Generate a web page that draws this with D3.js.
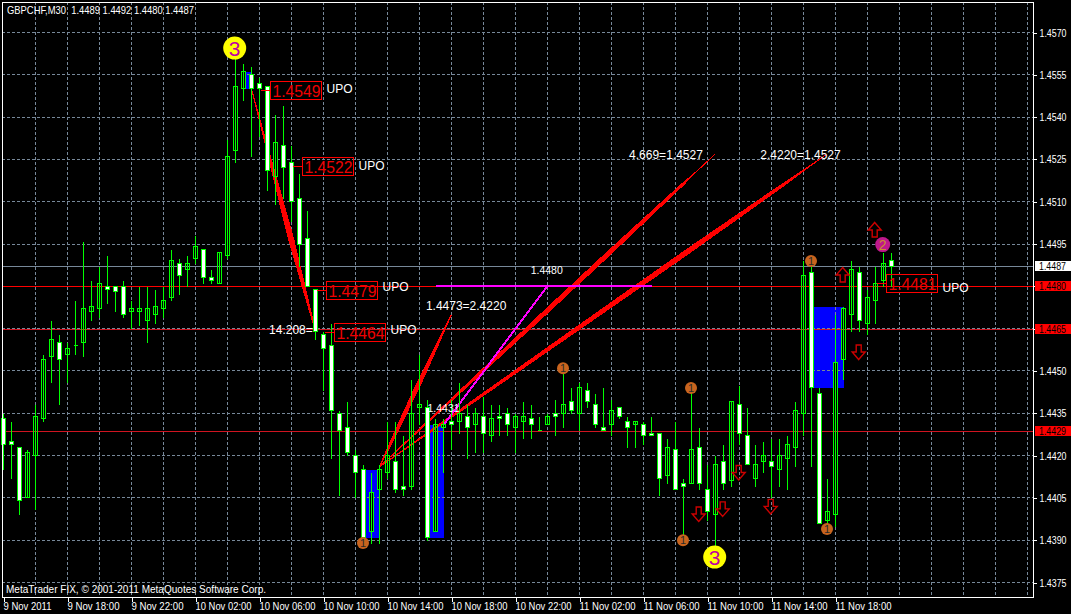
<!DOCTYPE html>
<html><head><meta charset="utf-8">
<script src="https://cdn.jsdelivr.net/npm/d3@7"></script>
<style>html,body{margin:0;padding:0;background:#000;overflow:hidden}svg{display:block}text{font-family:"Liberation Sans",Arial,sans-serif}</style>
</head><body><div id="chart"></div>
<script>
const open=[1.4433,1.4425,1.4423,1.4405,1.4420,1.4433,1.4455,1.4460,1.4456,1.4459,1.4460,1.4471,1.4472,1.4480,1.4480,1.4480,1.4471,1.4471,1.4468,1.4470,1.4472,1.4476,1.4488,1.4486,1.4490,1.4493,1.4483,1.4481,1.4491,1.4528,1.4550,1.4555,1.4552,1.4551,1.4519,1.4530,1.4524,1.4511,1.4497,1.4479,1.4463,1.4459,1.4435,1.4430,1.4420,1.4415,1.4393,1.4408,1.4414,1.4418,1.4409,1.4409,1.4437,1.4437,1.4393,1.4430,1.4432,1.4432,1.4434,1.4431,1.4434,1.4427,1.4434,1.4435,1.4430,1.4432,1.4433,1.4429,1.4431,1.4435,1.4435,1.4439,1.4435,1.4443,1.4438,1.4430,1.4431,1.4437,1.4432,1.4431,1.4431,1.4428,1.4428,1.4413,1.4422,1.4410,1.4410,1.4423,1.4408,1.4399,1.4418,1.4411,1.4438,1.4427,1.4412,1.4418,1.4418,1.4415,1.4419,1.4423,1.4435,1.4485,1.4442,1.4397,1.4399,1.4454,1.4470,1.4485,1.4467,1.4475,1.4482,1.4489];
const high=[1.4435,1.4432,1.4423,1.4422,1.4438,1.4456,1.4468,1.4463,1.4460,1.4475,1.4496,1.4482,1.4487,1.4491,1.4480,1.4482,1.4475,1.4480,1.4480,1.4479,1.4480,1.4493,1.4490,1.4491,1.4498,1.4493,1.4486,1.4492,1.4532,1.4561,1.4559,1.4558,1.4554,1.4551,1.4541,1.4544,1.4530,1.4520,1.4507,1.4479,1.4464,1.4467,1.4436,1.4439,1.4422,1.4417,1.4414,1.4417,1.4432,1.4432,1.4427,1.4447,1.4456,1.4440,1.4433,1.4433,1.4440,1.4446,1.4438,1.4437,1.4441,1.4438,1.4438,1.4437,1.4435,1.4439,1.4438,1.4434,1.4435,1.4440,1.4451,1.4444,1.4446,1.4446,1.4442,1.4444,1.4440,1.4437,1.4434,1.4432,1.4432,1.4434,1.4428,1.4426,1.4432,1.4412,1.4444,1.4430,1.4417,1.4420,1.4424,1.4439,1.4445,1.4437,1.4424,1.4425,1.4426,1.4426,1.4427,1.4439,1.4489,1.4489,1.4444,1.4412,1.4470,1.4473,1.4489,1.4487,1.4479,1.4487,1.4492,1.4492];
const low=[1.4415,1.4412,1.4399,1.4405,1.4401,1.4432,1.4446,1.4438,1.4446,1.4456,1.4455,1.4468,1.4469,1.4474,1.4471,1.4469,1.4465,1.4466,1.4460,1.4467,1.4469,1.4475,1.4477,1.4480,1.4488,1.4481,1.4481,1.4481,1.4490,1.4524,1.4546,1.4526,1.4533,1.4514,1.4509,1.4511,1.4503,1.4487,1.4480,1.4461,1.4443,1.4419,1.4406,1.4420,1.4405,1.4390,1.4389,1.4389,1.4412,1.4407,1.4406,1.4408,1.4431,1.4390,1.4393,1.4414,1.4422,1.4428,1.4419,1.4421,1.4421,1.4425,1.4427,1.4427,1.4421,1.4426,1.4426,1.4429,1.4431,1.4427,1.4430,1.4435,1.4429,1.4437,1.4430,1.4429,1.4427,1.4433,1.4423,1.4423,1.4424,1.4427,1.4406,1.4410,1.4408,1.4390,1.4410,1.4408,1.4397,1.4388,1.4408,1.4409,1.4424,1.4417,1.4409,1.4414,1.4405,1.4409,1.4408,1.4416,1.4427,1.4416,1.4396,1.4395,1.4395,1.4447,1.4464,1.4464,1.4463,1.4467,1.4480,1.4480];
const close=[1.4424,1.4424,1.4404,1.4421,1.4434,1.4454,1.4461,1.4454,1.4458,1.4459,1.4472,1.4473,1.4481,1.4479,1.4478,1.4470,1.4472,1.4472,1.4472,1.4473,1.4475,1.4489,1.4484,1.4488,1.4494,1.4483,1.4482,1.4492,1.4526,1.4551,1.4556,1.4550,1.4550,1.4521,1.4531,1.4522,1.4510,1.4495,1.4480,1.4464,1.4458,1.4436,1.4429,1.4421,1.4414,1.4391,1.4407,1.4415,1.4420,1.4408,1.4408,1.4435,1.4438,1.4391,1.4431,1.4431,1.4431,1.4435,1.4430,1.4435,1.4428,1.4433,1.4433,1.4431,1.4434,1.4434,1.4431,1.4429,1.4434,1.4434,1.4438,1.4436,1.4444,1.4439,1.4431,1.4429,1.4436,1.4434,1.4430,1.4432,1.4427,1.4427,1.4412,1.4423,1.4408,1.4409,1.4422,1.4410,1.4400,1.4417,1.4410,1.4439,1.4428,1.4417,1.4417,1.4420,1.4416,1.4420,1.4424,1.4436,1.4484,1.4444,1.4396,1.4400,1.4453,1.4472,1.4486,1.4468,1.4476,1.4481,1.4488,1.4487];
const priceTicks=[1.4570,1.4555,1.4540,1.4525,1.4510,1.4495,1.4480,1.4465,1.4450,1.4435,1.4420,1.4405,1.4390,1.4375];
const timeTickBars=[0,8,16,24,32,40,48,56,64,72,80,88,96,104];
const timeTickLabels=["9 Nov 2011","9 Nov 18:00","9 Nov 22:00","10 Nov 02:00","10 Nov 06:00","10 Nov 10:00","10 Nov 14:00","10 Nov 18:00","10 Nov 22:00","11 Nov 02:00","11 Nov 06:00","11 Nov 10:00","11 Nov 14:00","11 Nov 18:00"];
const gridBars=d3.range(4,132,4);
const levelLines=[{p:1.4487,txt:"1.4487",c:"#778899",fg:"#000",bg:"#fff"},{p:1.4480,txt:"1.4480",c:"#ff0000",fg:"#000",bg:"#ff0000"},{p:1.44648,txt:"1.4465",c:"#d01420",fg:"#000",bg:"#ff0000"},{p:1.44285,txt:"1.4429",c:"#d01420",fg:"#000",bg:"#ff0000"}];
const blueBoxes=[{a:30,b:31,hi:1.4556,lo:1.4550},{a:45,b:47,hi:1.4415,lo:1.4391},{a:53,b:55,hi:1.4431,lo:1.4391},{a:101,b:105,hi:1.4473,lo:1.4444}];
const slivers=[
 {a:31,pa:1.4550,b:39,pb:1.4464,t:[0,.18,.45,.62,.85,1],w:[1,2,4.6,6,3.2,1]},
 {a:47,pa:1.4416,b:56,pb:1.4470,t:[0,.12,.3,.55,.8,1],w:[1,2.6,4,5,3,1]},
 {a:47,pa:1.4416,b:89,pb:1.4527,t:[0,.25,.5,.68,.9,.94,1],w:[1,3,5,5,3,1.2,.8]},
 {a:47,pa:1.4416,b:103,pb:1.4527,t:[0,.2,.45,.68,.9,.96,1],w:[1,3,4.6,5.6,3.4,1.4,.8]}];
const magenta=[{a:55,pa:1.4431,b:68,pb:1.4480},{a:54,pa:1.4480,b:81,pb:1.4480}];
const priceLabels=[{bar:32,p:1.45495,upo:1.45502,txt:"1.4549"},{bar:36,p:1.45225,upo:1.4523,txt:"1.4522"},{bar:39,p:1.44787,upo:1.4480,txt:"1.4479"},{bar:40,p:1.44637,upo:1.44648,txt:"1.4464"},{bar:109,p:1.4481,upo:1.44797,txt:"1.4481"}];
const notes=[{bar:78.2,p:1.4525,txt:"4.669=1.4527"},{bar:94.6,p:1.4525,txt:"2.4220=1.4527"},{bar:52.8,p:1.44715,txt:"1.4473=2.4220"},{bar:33.2,p:1.4463,txt:"14.208="}];
const smallNotes=[{bar:65.9,p:1.44843,txt:"1.4480"},{bar:53,p:1.44353,txt:"1.4431"}];
const yellowDots=[{bar:29,p:1.45645,txt:"3"},{bar:89,p:1.4384,txt:"3"}];
const orangeDots=[{bar:45,p:1.4389},{bar:70,p:1.4451},{bar:86,p:1.4444},{bar:85,p:1.4390},{bar:101,p:1.4489},{bar:103,p:1.4394}];
const pinkDots=[{bar:110,p:1.44948,txt:"2"}];
const arrows=[{bar:109,p:1.4500,up:true},{bar:105,p:1.4484,up:true},{bar:107,p:1.44567,up:false},{bar:92,p:1.4414,up:false},{bar:90,p:1.44011,up:false},{bar:96,p:1.4402,up:false},{bar:87,p:1.43993,up:false}];
const titleText="GBPCHF,M30  1.4489 1.4492 1.4480 1.4487";
const footerText="MetaTrader FIX, \u00a9 2001-2011 MetaQuotes Software Corp.";

const W=1071,H=614,L=2,T=2,R=1033,B=597;
const x=d3.scaleLinear().domain([0,111]).range([3.5,891.5]);
const y=d3.scaleLinear().domain([1.4375,1.4570]).range([582.5,32.5]);
const sx=b=>Math.floor(x(b))+.5, sy=p=>Math.round(y(p)-.5)+.5;
const svg=d3.select("#chart").append("svg").attr("width",W).attr("height",H);
svg.append("rect").attr("width",W).attr("height",H).attr("fill","#000");
const plot=svg.append("g").attr("shape-rendering","crispEdges");

// blue boxes
plot.selectAll("rect.b").data(blueBoxes).join("rect").attr("fill","#0000ff")
 .attr("x",d=>sx(d.a)).attr("width",d=>sx(d.b)-sx(d.a)).attr("y",d=>sy(d.hi)).attr("height",d=>sy(d.lo)-sy(d.hi));
// grid
const dash="3 2";
plot.selectAll("line.gx").data(gridBars).join("line").attr("x1",d=>sx(d)).attr("x2",d=>sx(d)).attr("y1",T).attr("y2",B)
 .attr("stroke","#778899").attr("stroke-dasharray",dash);
plot.selectAll("line.gy").data(priceTicks).join("line").attr("x1",L).attr("x2",R).attr("y1",d=>sy(d)).attr("y2",d=>sy(d))
 .attr("stroke","#778899").attr("stroke-dasharray",dash);
// bull bodies first
const idx=d3.range(open.length);
const bodyPath=i=>{const a=sy(Math.max(open[i],close[i])),b=sy(Math.min(open[i],close[i])),c=sx(i);return `M${c-2} ${a}H${c+2}V${b}H${c-2}Z`;};
const isBear=i=>close[i]<open[i];
plot.selectAll("path.bull").data(idx.filter(i=>!isBear(i))).join("path").attr("d",bodyPath).attr("fill","#000").attr("stroke","none");
// level lines
plot.selectAll("line.lvl").data(levelLines).join("line").attr("x1",L).attr("x2",R).attr("y1",d=>sy(d.p)).attr("y2",d=>sy(d.p)).attr("stroke",d=>d.c);
// slivers
const poly=d3.line();
plot.selectAll("path.sl").data(slivers).join("path").attr("fill","#ff0000").attr("d",s=>{
  const x0=x(s.a),y0=y(s.pa),x1=x(s.b),y1=y(s.pb),dx=x1-x0,dy=y1-y0,l=Math.hypot(dx,dy),nx=-dy/l,ny=dx/l;
  const up=s.t.map((t,i)=>[x0+dx*t+nx*s.w[i]/2,y0+dy*t+ny*s.w[i]/2]);
  const dn=s.t.map((t,i)=>[x0+dx*t-nx*s.w[i]/2,y0+dy*t-ny*s.w[i]/2]).reverse();
  return poly(up.concat(dn))+"Z";});
// magenta
plot.selectAll("line.mg").data(magenta).join("line").attr("x1",d=>x(d.a)).attr("x2",d=>x(d.b)).attr("y1",d=>Math.round(y(d.pa))).attr("y2",d=>Math.round(y(d.pb)))
 .attr("stroke","#ff00ff").attr("stroke-width",2);
// wicks & bodies
plot.selectAll("line.w").data(idx).join("line").attr("x1",i=>sx(i)).attr("x2",i=>sx(i)).attr("y1",i=>sy(high[i])).attr("y2",i=>sy(low[i])+.5).attr("stroke","#00ff00");
plot.selectAll("path.body").data(idx).join("path").attr("d",bodyPath).attr("fill",i=>isBear(i)?"#fff":"none").attr("stroke","#00ff00");

// price labels
const lab=svg.append("g");
lab.selectAll("line").data(priceLabels).join("line").attr("shape-rendering","crispEdges").attr("x1",d=>sx(d.bar)+1).attr("x2",d=>sx(d.bar)+11).attr("y1",d=>sy(d.p)).attr("y2",d=>sy(d.p)).attr("stroke","#ff0000");
lab.selectAll("rect").data(priceLabels).join("rect").attr("shape-rendering","crispEdges").attr("x",d=>sx(d.bar)+11).attr("y",d=>sy(d.p)-9).attr("width",51).attr("height",18).attr("fill","none").attr("stroke","#ff0000");
lab.selectAll("text.v").data(priceLabels).join("text").attr("x",d=>sx(d.bar)+13).attr("y",d=>sy(d.p)+6.5).attr("fill","#ee0000").attr("font-size",16).attr("textLength",48).attr("lengthAdjust","spacingAndGlyphs").text(d=>d.txt);
lab.selectAll("text.u").data(priceLabels).join("text").attr("x",d=>sx(d.bar)+67).attr("y",d=>y(d.upo)+4.5).attr("fill","#fff").attr("font-size",12).text("UPO");
lab.selectAll("text.n").data(notes).join("text").attr("x",d=>x(d.bar)).attr("y",d=>y(d.p)).attr("fill","#fff").attr("font-size",12).text(d=>d.txt);
lab.selectAll("text.s").data(smallNotes).join("text").attr("x",d=>x(d.bar)).attr("y",d=>y(d.p)).attr("fill","#fff").attr("font-size",10.5).text(d=>d.txt);

// dots
const dots=svg.append("g");
dots.selectAll("circle.y").data(yellowDots).join("circle").attr("cx",d=>x(d.bar)-.8).attr("cy",d=>y(d.p)).attr("r",11.5).attr("fill","#ffff00");
dots.selectAll("text.y").data(yellowDots).join("text").attr("x",d=>x(d.bar)-.8).attr("y",d=>y(d.p)+7.5).attr("text-anchor","middle").attr("font-size",21).attr("fill","#c000a0").text(d=>d.txt);
dots.selectAll("circle.o").data(orangeDots).join("circle").attr("cx",d=>x(d.bar)-.5).attr("cy",d=>y(d.p)).attr("r",6).attr("fill","#c8641e");
dots.selectAll("text.o").data(orangeDots).join("text").attr("x",d=>x(d.bar)-.5).attr("y",d=>y(d.p)+4).attr("text-anchor","middle").attr("font-size",11).attr("fill","#2a2a2a").text("1");
dots.selectAll("circle.p").data(pinkDots).join("circle").attr("cx",d=>x(d.bar)-.8).attr("cy",d=>y(d.p)).attr("r",7.5).attr("fill","#c0188c");
dots.selectAll("text.p").data(pinkDots).join("text").attr("x",d=>x(d.bar)-.8).attr("y",d=>y(d.p)+5).attr("text-anchor","middle").attr("font-size",14).attr("fill","#c89030").text(d=>d.txt);
// arrows
const arrowPath=d3.path();
arrowPath.moveTo(0,-7.5);arrowPath.lineTo(6.5,0);arrowPath.lineTo(2.5,0);arrowPath.lineTo(2.5,7);arrowPath.lineTo(-2.5,7);arrowPath.lineTo(-2.5,0);arrowPath.lineTo(-6.5,0);arrowPath.closePath();
dots.selectAll("path.a").data(arrows).join("path").attr("d",arrowPath.toString()).attr("fill","none").attr("stroke","#cc0000").attr("stroke-width",1.4)
 .attr("transform",d=>`translate(${x(d.bar)-.8},${y(d.p)}) scale(1,${d.up?1:-1})`);

// frame
svg.append("rect").attr("shape-rendering","crispEdges").attr("x",L+.5).attr("y",T+.5).attr("width",R-L).attr("height",B-T).attr("fill","none").attr("stroke","#fff");

// axes
const axR=svg.append("g").attr("transform",`translate(${R+.5},0)`).attr("shape-rendering","crispEdges")
 .call(d3.axisRight(y).tickValues(priceTicks).tickFormat(d3.format(".4f")).tickSize(3).tickPadding(3));
axR.select(".domain").remove();
axR.selectAll("line").attr("stroke","#fff");
axR.selectAll("text").attr("fill","#fff").attr("font-size",11).attr("textLength",27).attr("lengthAdjust","spacingAndGlyphs").attr("font-family",'"Liberation Sans"');
const axB=svg.append("g").attr("transform",`translate(0,${B+.5})`).attr("shape-rendering","crispEdges")
 .call(d3.axisBottom(x).tickValues(timeTickBars).tickFormat((d,i)=>timeTickLabels[i]).tickSize(4).tickPadding(3));
axB.select(".domain").remove();
axB.selectAll("line").attr("stroke","#fff");
axB.selectAll("text").attr("fill","#fff").attr("font-size",11).attr("text-anchor","start").attr("font-family",'"Liberation Sans"')
 .attr("x",-.5).attr("y",12.5).attr("dy",0)
 .attr("textLength",(d,i)=>i==0?48:(timeTickLabels[i].length==11?52:56)).attr("lengthAdjust","spacingAndGlyphs");

// level tags
const tags=svg.append("g");
tags.selectAll("rect").data(levelLines).join("rect").attr("shape-rendering","crispEdges").attr("x",R+2).attr("width",W-R-2).attr("y",d=>sy(d.p)-5.5).attr("height",10).attr("fill",d=>d.bg);
tags.selectAll("text").data(levelLines).join("text").attr("x",R+6).attr("y",d=>sy(d.p)+3.5).attr("fill",d=>d.fg).attr("font-size",11).attr("textLength",27).attr("lengthAdjust","spacingAndGlyphs").text(d=>d.txt);

svg.append("text").attr("x",7).attr("y",14).attr("fill","#fff").attr("font-size",11).attr("textLength",187).attr("lengthAdjust","spacingAndGlyphs").style("white-space","pre").text(titleText);
svg.append("text").attr("x",6).attr("y",593).attr("fill","#fff").attr("font-size",11).attr("textLength",260).attr("lengthAdjust","spacingAndGlyphs").text(footerText);
</script></body></html>
